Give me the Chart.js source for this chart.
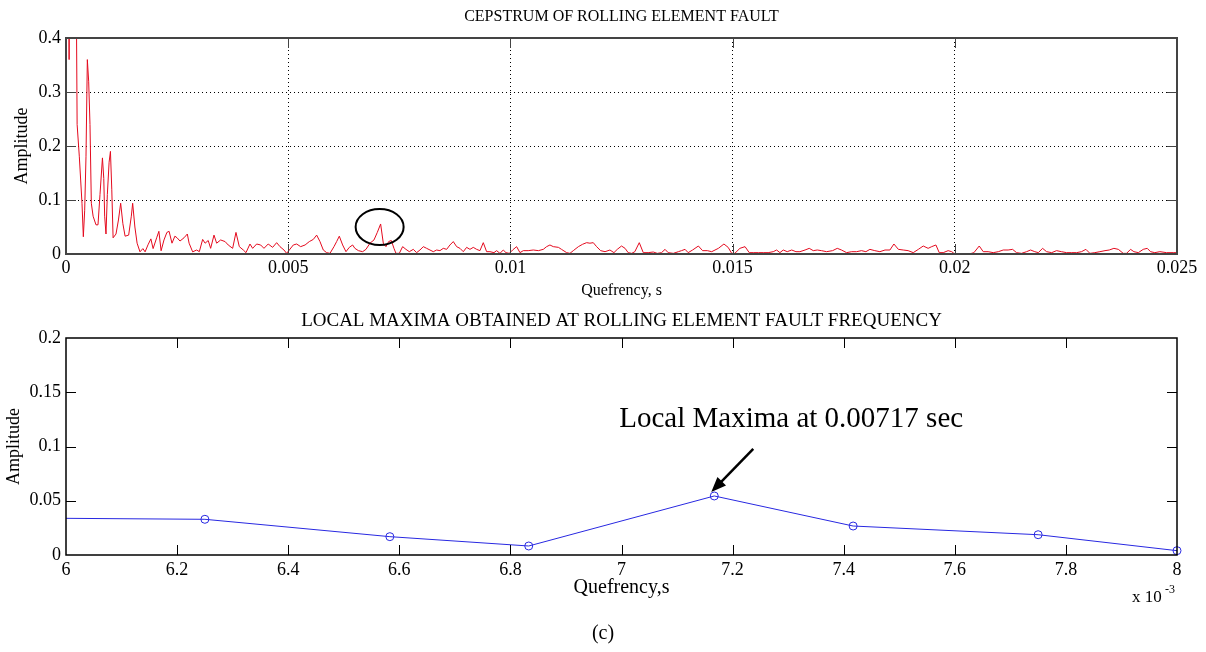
<!DOCTYPE html>
<html lang="en">
<head>
<meta charset="UTF-8">
<title>Cepstrum of rolling element fault</title>
<script src="https://cdn.jsdelivr.net/npm/chart.js"></script>
<style>
  body { margin: 0; background: #fff; width: 1206px; height: 652px; overflow: hidden; position: relative; }
  .box { position: absolute; left: 0; width: 1206px; }
  #top { top: 0; height: 300px; }
  #bottom { top: 300px; height: 352px; }
</style>
</head>
<body>
<div class="box" id="top"><canvas id="cepstrum"></canvas></div>
<div class="box" id="bottom"><canvas id="localMax"></canvas></div>
<script>
// cepstrum trace, quefrency in ms
const cepQuefrencyMs = [
  0, 0.07, 0.13, 0.2, 0.25, 0.3, 0.33, 0.36, 0.39, 0.42, 0.45, 0.48, 0.51, 0.54, 0.57, 0.61, 0.675, 0.72, 0.765, 0.82,
  0.85, 0.87, 0.9, 0.93, 0.97, 1.0, 1.03, 1.06, 1.125, 1.18, 1.23, 1.28, 1.33, 1.41, 1.47, 1.5, 1.55, 1.6, 1.665, 1.73,
  1.78, 1.845, 1.91, 1.96, 2.04, 2.09, 2.14, 2.205, 2.27, 2.32, 2.385, 2.45, 2.5, 2.565, 2.655, 2.73, 2.77, 2.85,
  2.94, 3.0, 3.075, 3.13, 3.2, 3.255, 3.33, 3.39, 3.48, 3.58, 3.65, 3.75, 3.825, 3.9, 3.99, 4.05, 4.14, 4.2, 4.29, 4.38,
  4.455, 4.55, 4.65, 4.74, 4.815, 4.905, 4.965, 5.025, 5.115, 5.19, 5.28, 5.38, 5.475, 5.565, 5.64, 5.715, 5.79, 5.865,
  5.94, 6.03, 6.09, 6.15, 6.225, 6.3, 6.375, 6.45, 6.5, 6.58, 6.675, 6.75, 6.84, 6.93, 7.005, 7.08, 7.14, 7.2, 7.26,
  7.32, 7.38, 7.425, 7.5, 7.575, 7.65, 7.725, 7.815, 7.89, 7.965, 8.04, 8.115, 8.19,
  8.265, 8.34, 8.415, 8.49, 8.565, 8.64, 8.715, 8.79, 8.865, 8.94, 9.015, 9.09, 9.165, 9.24, 9.315, 9.39, 9.465, 9.54,
  9.63, 9.69, 9.765, 9.84, 9.9, 9.975, 10.05, 10.14, 10.215, 10.29, 10.4, 10.515, 10.63, 10.74, 10.815, 10.89, 10.965,
  11.08, 11.15, 11.265, 11.34, 11.415, 11.53, 11.625, 11.715, 11.79, 11.865, 11.94, 12.03, 12.13, 12.24, 12.33, 12.405,
  12.5, 12.58, 12.65, 12.73, 12.8, 12.9, 12.99, 13.1, 13.215, 13.305, 13.4, 13.48, 13.55, 13.665, 13.78,
  13.85, 13.93, 14.0, 14.1, 14.23, 14.325, 14.43, 14.53, 14.68, 14.805, 14.9, 14.98, 15.05, 15.165, 15.28, 15.375,
  15.465, 15.58, 15.69, 15.8, 15.915, 15.99, 16.065, 16.14, 16.23, 16.33, 16.425, 16.515, 16.63, 16.725, 16.815,
  16.905, 17.0, 17.115, 17.25, 17.355, 17.45, 17.565, 17.68, 17.79, 17.9, 18.0, 18.09, 18.2, 18.315, 18.43, 18.54,
  18.63, 18.73, 18.84, 18.95, 19.065, 19.18,
  19.29, 19.4, 19.48, 19.575, 19.65, 19.74, 19.85, 19.93, 19.98, 20.08, 20.19, 20.325, 20.43, 20.55, 20.64, 20.75,
  20.865, 20.98, 21.09, 21.2, 21.3, 21.39, 21.5, 21.615, 21.705, 21.8, 21.88, 21.975, 22.065, 22.18, 22.29, 22.4,
  22.515, 22.63, 22.74, 22.85, 22.95, 23.04, 23.15, 23.265, 23.38, 23.475, 23.58, 23.68, 23.79, 23.865, 23.955,
  24.03, 24.13, 24.24, 24.33, 24.405, 24.5, 24.615, 24.765, 24.915, 25.0
];
const cepAmplitude = [
  1.2, 0.36, 1.3, 0.9, 0.24, 0.18, 0.137, 0.094, 0.032, 0.08, 0.18, 0.36, 0.32, 0.24, 0.094, 0.07, 0.054, 0.054, 0.11, 0.178,
  0.14, 0.07, 0.037, 0.11, 0.17, 0.19, 0.12, 0.03, 0.037, 0.063, 0.094, 0.056, 0.033, 0.035, 0.07, 0.094, 0.05, 0.02, 0.004, 0.01,
  0.004, 0.017, 0.028, 0.01, 0.03, 0.042, 0.006, 0.026, 0.04, 0.042, 0.02, 0.033, 0.03, 0.024, 0.03, 0.037, 0.02, 0.004,
  0.0074, 0.0043, 0.027, 0.02, 0.025, 0.0105, 0.035, 0.02, 0.026, 0.023, 0.0167, 0.0105, 0.04, 0.0136, 0.0074, 0.0025, 0.0185, 0.0105, 0.0185, 0.0167,
  0.0105, 0.0185, 0.0123, 0.021, 0.0136, 0.0074, 0.0012, 0.0074, 0.0167, 0.0185, 0.0136, 0.0167, 0.023, 0.027, 0.035, 0.023, 0.0074, 0.0025,
  0.0012, 0.0136, 0.023, 0.033, 0.0167, 0.0043, 0.0123, 0.0167, 0.0105, 0.0062, 0.0043, 0.0086, 0.02, 0.026, 0.04, 0.0556, 0.02, 0.0136, 0.023,
  0.025, 0.0105, 0.0012, 0.0012, 0.0136, 0.0086, 0.0043, 0.0086, 0.0025, 0.0074, 0.0136, 0.0105, 0.0074,
  0.0043, 0.0074, 0.0062, 0.0105, 0.0086, 0.0167, 0.023, 0.0136, 0.0105, 0.0043, 0.0123, 0.0086, 0.0123, 0.0086, 0.0062, 0.021, 0.0043, 0.0043,
  0.0025, 0.0062, 0.0012, 0.0074, 0.0025, 0.0012, 0.0074, 0.0136, 0.0025, 0.0062, 0.0062, 0.0074, 0.0062, 0.0086, 0.0136, 0.0167, 0.0136,
  0.0123, 0.0086, 0.0025, 0.0012, 0.0062, 0.0136, 0.018, 0.021, 0.02, 0.021, 0.0136, 0.0062, 0.0043, 0.0074, 0.0025, 0.0086,
  0.0148, 0.0105, 0.0025, 0.0012, 0.0043, 0.021, 0.0025, 0.0025, 0.0037, 0.0012, 0.0025, 0.0086, 0.0025, 0.0012, 0.0043,
  0.0062, 0.0086, 0.0025, 0.0074, 0.0148, 0.0062, 0.0062, 0.0043, 0.0105, 0.0185, 0.0123, 0.0012, 0.0012, 0.0105, 0.0136, 0.0025,
  0.0025, 0.0025, 0.0025, 0.0025, 0.0043, 0.0074, 0.0025, 0.0074, 0.0043, 0.0074, 0.0043, 0.0043, 0.0074, 0.0105, 0.0062,
  0.0074, 0.0062, 0.0043, 0.0062, 0.0105, 0.0074, 0.0025, 0.0043, 0.0043, 0.0062, 0.0043, 0.0086, 0.0062, 0.0043, 0.0074, 0.0074,
  0.0185, 0.0086, 0.0074, 0.0062, 0.0025, 0.0086,
  0.0148, 0.0105, 0.0136, 0.0167, 0.0025, 0.0025, 0.0062, 0.0043, 0.0012, 0, 0, 0, 0.0025, 0.0148, 0.0043, 0.0043,
  0.0025, 0.0043, 0.0074, 0.0074, 0.0086, 0.0025, 0.0012, 0.0043, 0.0074, 0.0043, 0.0025, 0.0105, 0.0043, 0.0025, 0.0062, 0.0043,
  0.0025, 0.0025, 0.0025, 0.0043, 0.0086, 0.0012, 0.0025, 0.0043, 0.0062, 0.0074, 0.0105, 0.0086, 0.0012, 0.0012, 0.0086,
  0.0043, 0.0025, 0.0086, 0.0105, 0.0043, 0.0025, 0.0043, 0.0025, 0.0025, 0.0025
];

// local maxima zoom, quefrency in units of 10^-3 s
const lmQuefrency = [5.917, 6.25, 6.583, 6.833, 7.167, 7.417, 7.75, 8.0];
const lmAmplitude = [0.0341, 0.0329, 0.0169, 0.0083, 0.0544, 0.0267, 0.0187, 0.004];

const serif = "'Liberation Serif', 'Times New Roman', serif";
const fmt = v => parseFloat(v.toFixed(4)).toString();

// MATLAB-like box: frame, inward ticks on all four sides, title
const frame = {
  id: 'frame',
  afterDatasetsDraw(chart, args, o) {
    const {ctx, chartArea: a, scales} = chart;
    ctx.save();
    ctx.strokeStyle = o.color;
    ctx.lineWidth = 1;
    ctx.beginPath();
    scales.x.ticks.forEach(t => {
      const px = Math.round(scales.x.getPixelForValue(t.value)) + 0.5;
      if (px < a.left + 2 || px > a.right - 2) return;
      ctx.moveTo(px, a.bottom); ctx.lineTo(px, a.bottom - 10);
      ctx.moveTo(px, a.top); ctx.lineTo(px, a.top + 10);
    });
    scales.y.ticks.forEach(t => {
      const py = Math.round(scales.y.getPixelForValue(t.value)) + 0.5;
      if (py < a.top + 2 || py > a.bottom - 2) return;
      ctx.moveTo(a.left, py); ctx.lineTo(a.left + 10, py);
      ctx.moveTo(a.right, py); ctx.lineTo(a.right - 10, py);
    });
    ctx.stroke();
    ctx.lineWidth = o.width;
    ctx.strokeRect(a.left, a.top, a.right - a.left, a.bottom - a.top);
    ctx.fillStyle = '#000';
    ctx.font = o.titleSize + 'px ' + serif;
    ctx.textAlign = 'center';
    ctx.textBaseline = 'middle';
    ctx.fillText(o.title, (a.left + a.right) / 2, o.titleY);
    ctx.restore();
  }
};

// circle round the peak near 7 ms on the cepstrum
const peakRing = {
  id: 'peakRing',
  afterDatasetsDraw(chart) {
    const {ctx, scales} = chart;
    let best = -1;
    cepQuefrencyMs.forEach((q, i) => {
      if (q > 6.5 && q < 7.5 && (best < 0 || cepAmplitude[i] > cepAmplitude[best])) best = i;
    });
    const px = scales.x.getPixelForValue(cepQuefrencyMs[best] / 1000);
    const py = scales.y.getPixelForValue(cepAmplitude[best]);
    ctx.save();
    ctx.strokeStyle = '#000';
    ctx.lineWidth = 2;
    ctx.beginPath();
    ctx.ellipse(px - 1, py + 3, 24, 18, 0, 0, Math.PI * 2);
    ctx.stroke();
    ctx.restore();
  }
};

// arrow + label for the local maximum, exponent, caption
const lmNotes = {
  id: 'lmNotes',
  afterDatasetsDraw(chart) {
    const {ctx, scales, chartArea: a} = chart;
    const i = lmAmplitude.indexOf(Math.max(...lmAmplitude));
    const px = scales.x.getPixelForValue(lmQuefrency[i]);
    const py = scales.y.getPixelForValue(lmAmplitude[i]);
    const tipX = px - 3, tipY = py - 4, tailX = px + 39, tailY = py - 47;
    const ang = Math.atan2(tipY - tailY, tipX - tailX);
    ctx.save();
    ctx.strokeStyle = '#000';
    ctx.fillStyle = '#000';
    ctx.lineWidth = 2.5;
    ctx.beginPath();
    ctx.moveTo(tailX, tailY);
    ctx.lineTo(tipX - 10 * Math.cos(ang), tipY - 10 * Math.sin(ang));
    ctx.stroke();
    ctx.beginPath();
    ctx.moveTo(tipX, tipY);
    ctx.lineTo(tipX - 15 * Math.cos(ang) + 6 * Math.sin(ang), tipY - 15 * Math.sin(ang) - 6 * Math.cos(ang));
    ctx.lineTo(tipX - 15 * Math.cos(ang) - 6 * Math.sin(ang), tipY - 15 * Math.sin(ang) + 6 * Math.cos(ang));
    ctx.closePath();
    ctx.fill();
    ctx.font = '29px ' + serif;
    ctx.textAlign = 'left';
    ctx.textBaseline = 'alphabetic';
    ctx.fillText('Local Maxima at 0.00717 sec', px - 95, py - 69);
    ctx.font = '17px ' + serif;
    ctx.fillText('x 10', a.right - 45, a.bottom + 47);
    ctx.font = '12px ' + serif;
    ctx.fillText('-3', a.right - 12, a.bottom + 38);
    ctx.font = '20px ' + serif;
    ctx.textAlign = 'center';
    ctx.fillText('(c)', 603, 339);
    ctx.restore();
  }
};

new Chart(document.getElementById('cepstrum'), {
  type: 'line',
  data: {
    datasets: [{
      data: cepQuefrencyMs.map((q, i) => ({x: q / 1000, y: cepAmplitude[i]})),
      borderColor: 'rgb(228, 10, 30)',
      borderWidth: 1,
      pointRadius: 0,
      tension: 0,
      clip: {left: 0, top: 0, right: 0, bottom: 2}
    }]
  },
  options: {
    responsive: true,
    maintainAspectRatio: false,
    animation: false,
    layout: {padding: {top: 38, right: 29, left: 0, bottom: 0}},
    plugins: {
      legend: {display: false},
      tooltip: {enabled: false},
      frame: {title: 'CEPSTRUM OF ROLLING ELEMENT FAULT', titleSize: 16, titleY: 17, color: '#444', width: 2}
    },
    scales: {
      x: {
        type: 'linear', min: 0, max: 0.025,
        afterFit: s => { s.height = 46; },
        ticks: {stepSize: 0.005, padding: 3, color: '#000', maxRotation: 0, font: {family: serif, size: 18}, callback: fmt},
        grid: {color: '#000', lineWidth: 1, drawTicks: false},
        border: {display: false, dash: [1, 3]},
        title: {display: true, text: 'Quefrency, s', color: '#000', font: {family: serif, size: 16}, padding: {top: 0, bottom: 0}}
      },
      y: {
        min: 0, max: 0.4,
        afterFit: s => { s.width = 66; },
        ticks: {stepSize: 0.1, padding: 5, color: '#000', font: {family: serif, size: 18}, callback: fmt},
        grid: {color: '#000', lineWidth: 1, drawTicks: false},
        border: {display: false, dash: [1, 3]},
        title: {display: true, text: 'Amplitude', color: '#000', font: {family: serif, size: 18}, padding: {top: 11, bottom: 0}}
      }
    }
  },
  plugins: [frame, peakRing]
});

new Chart(document.getElementById('localMax'), {
  type: 'line',
  data: {
    datasets: [{
      data: lmQuefrency.map((q, i) => ({x: q, y: lmAmplitude[i]})),
      borderColor: 'rgb(40, 40, 225)',
      borderWidth: 1,
      pointRadius: 4,
      pointBorderWidth: 1,
      pointBorderColor: 'rgb(40, 40, 225)',
      pointBackgroundColor: 'rgba(0, 0, 0, 0)',
      tension: 0,
      clip: {left: 0, top: 0, right: 6, bottom: 0}
    }]
  },
  options: {
    responsive: true,
    maintainAspectRatio: false,
    animation: false,
    layout: {padding: {top: 38, right: 29, left: 0, bottom: 42}},
    plugins: {
      legend: {display: false},
      tooltip: {enabled: false},
      frame: {title: 'LOCAL MAXIMA OBTAINED AT ROLLING ELEMENT FAULT FREQUENCY', titleSize: 19, titleY: 21, color: '#000', width: 1.5}
    },
    scales: {
      x: {
        type: 'linear', min: 6, max: 8,
        afterFit: s => { s.height = 55; },
        ticks: {stepSize: 0.2, padding: 4, color: '#000', maxRotation: 0, font: {family: serif, size: 18}, callback: fmt},
        grid: {display: false, drawTicks: false},
        border: {display: false},
        title: {display: true, text: 'Quefrency,s', color: '#000', font: {family: serif, size: 20}, padding: {top: 0, bottom: 10}}
      },
      y: {
        min: 0, max: 0.2,
        afterFit: s => { s.width = 66; },
        ticks: {stepSize: 0.05, padding: 5, color: '#000', font: {family: serif, size: 18}, callback: fmt},
        grid: {display: false, drawTicks: false},
        border: {display: false},
        title: {display: true, text: 'Amplitude', color: '#000', font: {family: serif, size: 18}, padding: {top: 3, bottom: 0}}
      }
    }
  },
  plugins: [frame, lmNotes]
});
</script>
</body>
</html>
